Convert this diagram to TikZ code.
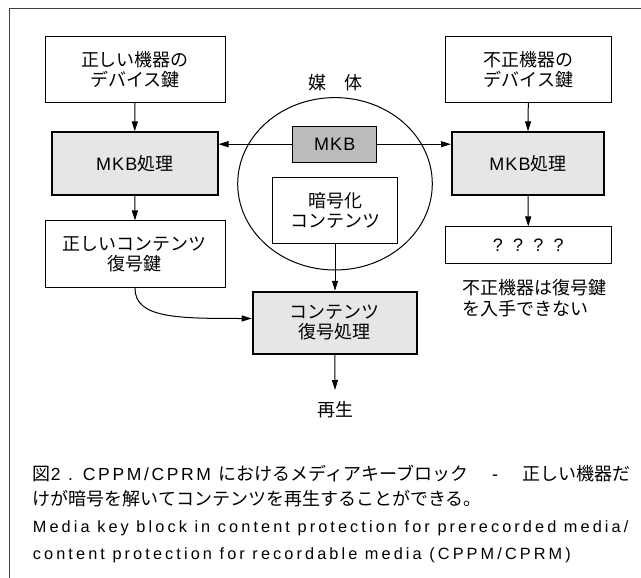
\documentclass[tikz,border=0pt]{standalone}
\usepackage{fontspec}
\setmainfont{Noto Sans CJK JP}
\newfontfamily\lat[LetterSpace=6]{Liberation Sans}
\newfontfamily\latsp[LetterSpace=15]{Liberation Sans}
\newfontfamily\engsp[LetterSpace=19]{Liberation Sans}
\usetikzlibrary{arrows.meta,shapes.geometric}
\definecolor{lightfill}{HTML}{E6E6E6}
\definecolor{mkbfill}{HTML}{BBBBBB}
\tikzset{
  every node/.style={font=\fontsize{18}{20}\selectfont, align=center},
  plainbox/.style={draw, line width=1pt, inner sep=0pt},
  procbox/.style={draw, line width=2pt, fill=lightfill, inner sep=0pt},
  conn/.style={line width=1pt, -{Triangle[length=10pt,width=6pt]}},
  captxt/.style={anchor=west, inner sep=0pt, align=left, font=\fontsize{18}{20}\selectfont},
  engtxt/.style={anchor=west, inner sep=0pt, align=left, font=\fontsize{16.3}{20}\selectfont\engsp}
}
\begin{document}
\begin{tikzpicture}[x=1pt,y=-1pt]
\useasboundingbox (0,0) rectangle (641,578);
\fill[white] (0,0) rectangle (641,578);
% frame
\draw[line width=1pt, black!75] (641,8.3) -- (9,8.3) -- (9,578);
% medium
\draw[line width=1pt] (335,183.8) ellipse [x radius=97.3, y radius=86.2];
\node (medium) at (335,82.7) {媒　体};
% left column
\node[plainbox, minimum width=180, minimum height=66.3] (A) at (135,69.2) {正しい機器の\\デバイス鍵};
\node[procbox, minimum width=165.5, minimum height=62.7] (LMKB) at (134.75,163.7) {{\lat MKB}処理};
\node[plainbox, minimum width=180, minimum height=66.7] (LKEY) at (135,254.3) {正しいコンテンツ\\復号鍵};
% right column
\node[plainbox, minimum width=166.6, minimum height=66.3] (B) at (528.3,69.2) {不正機器の\\デバイス鍵};
\node[procbox, minimum width=152, minimum height=62.7] (RMKB) at (528,163.7) {{\lat MKB}処理};
\node[plainbox, minimum width=166.6, minimum height=36.7] (Q) at (528.3,245.3) {\latsp ? ? ? ?};
\node[anchor=west, align=left, inner sep=0pt, font=\fontsize{18}{21}\selectfont] (note) at (462,297.8) {不正機器は復号鍵\\を入手できない};
% centre
\node[draw, line width=1pt, fill=mkbfill, minimum width=84, minimum height=36.3, inner sep=0pt] (MKB) at (334.7,144.2) {\lat MKB};
\node[plainbox, minimum width=124.7, minimum height=66] (ENC) at (335,210.3) {暗号化\\コンテンツ};
\node[procbox, minimum width=164.3, minimum height=62.3] (DEC) at (334.85,322.9) {コンテンツ\\復号処理};
\coordinate (playend) at (335,390);
\node (play) at (335,410) {再生};
% connectors
\draw[conn] (A.south) -- (LMKB.north);
\draw[conn] (LMKB.south) -- (LKEY.north);
\draw[conn] (B.south) -- (RMKB.north);
\draw[conn] (RMKB.south) -- (Q.north);
\draw[conn] (MKB.west) -- (MKB.west -| LMKB.east);
\draw[conn] (MKB.east) -- (MKB.east -| RMKB.west);
\draw[conn] (ENC.south) -- (ENC.south |- DEC.north);
\draw[conn] (LKEY.south) .. controls ([yshift=-30]LKEY.south) and ([xshift=-75,yshift=4.4]DEC.west) .. ([yshift=4.4]DEC.west);
\draw[conn] (DEC.south) -- (playend);
% caption
\node[captxt] (cap1) at (32.7,473.3) {図{\fontsize{17.5}{20}\latsp 2 . CPPM/CPRM }におけるメディアキーブロック\hspace{24pt}{\lat -}\hspace{24pt}正しい機器だ};
\node[captxt] (cap2) at (32.7,498.3) {けが暗号を解いてコンテンツを再生することができる。};
\node[engtxt] (cap3) at (32.7,528.3) {Media key block in content protection for prerecorded media/};
\node[engtxt] (cap4) at (32.7,555) {content protection for recordable media (CPPM/CPRM)};
\end{tikzpicture}
\end{document}
